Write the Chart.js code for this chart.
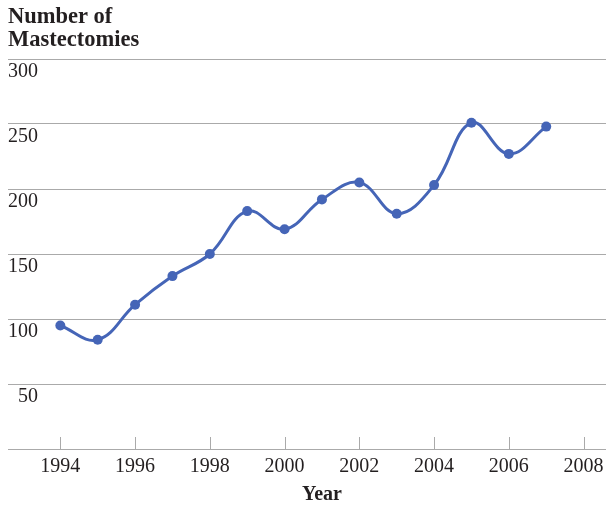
<!DOCTYPE html>
<html>
<head>
<meta charset="utf-8">
<script src="https://cdn.jsdelivr.net/npm/chart.js@4/dist/chart.umd.min.js"></script>
<style>
    html, body { margin: 0; padding: 0; background: #fff; }
    #wrap { width: 606px; height: 505px; }
</style>
</head>
<body>
<div id="wrap"><canvas id="mastChart"></canvas></div>
<script>
// Données
const years = [1994, 1995, 1996, 1997, 1998, 1999, 2000, 2001, 2002, 2003, 2004, 2005, 2006, 2007];
const mastectomies = [95, 84, 111, 133, 150, 183, 169, 192, 205, 181, 203, 251, 227, 248];
const xTickValues = [1994, 1996, 1998, 2000, 2002, 2004, 2006, 2008];
const yTickValues = [0, 50, 100, 150, 200, 250, 300];

const textColor = '#231f20';
const gridColor = '#aaaaaa';
const lineColor = '#4565b7';
const serif = "'Liberation Serif', 'DejaVu Serif', serif";

// Petits traits au-dessus de l'axe X + titre "Year"
const axisExtras = {
    id: 'axisExtras',
    afterDraw(chart) {
        const ctx = chart.ctx;
        const x = chart.scales.x;
        const bottom = chart.chartArea.bottom;
        ctx.save();
        ctx.strokeStyle = gridColor;
        ctx.lineWidth = 1;
        xTickValues.forEach(v => {
            const px = Math.round(x.getPixelForValue(v)) + 0.5;
            ctx.beginPath();
            ctx.moveTo(px, bottom);
            ctx.lineTo(px, bottom - 12);
            ctx.stroke();
        });
        ctx.fillStyle = textColor;
        ctx.font = 'bold 20px ' + serif;
        ctx.textAlign = 'center';
        ctx.textBaseline = 'middle';
        ctx.fillText('Year', x.getPixelForValue(2001), 495);
        ctx.restore();
    }
};

new Chart(document.getElementById('mastChart'), {
    type: 'line',
    data: {
        datasets: [{
            data: years.map((y, i) => ({ x: y, y: mastectomies[i] })),
            borderColor: lineColor,
            backgroundColor: lineColor,
            borderWidth: 3,
            tension: 0.4,
            pointRadius: 5,
            pointBackgroundColor: lineColor,
            pointBorderWidth: 0,
            fill: false
        }]
    },
    options: {
        responsive: true,
        maintainAspectRatio: false,
        animation: false,
        layout: {
            autoPadding: false,
            padding: { left: 8, right: 0, top: 0, bottom: 20 }
        },
        plugins: {
            legend: { display: false },
            tooltip: { enabled: false },
            title: {
                display: true,
                text: ['Number of', 'Mastectomies'],
                align: 'start',
                color: textColor,
                font: { family: serif, size: 22.5, weight: 'bold', lineHeight: 1.0 },
                padding: { top: 6, bottom: 8 }
            }
        },
        scales: {
            x: {
                type: 'linear',
                min: 1992.6,
                max: 2008.6,
                afterBuildTicks: scale => {
                    scale.ticks = xTickValues.map(v => ({ value: v }));
                },
                afterFit: scale => {
                    scale.paddingLeft = 0;
                    scale.paddingRight = 0;
                },
                grid: { display: false, drawTicks: false },
                border: { display: true, color: gridColor, width: 1 },
                ticks: {
                    color: textColor,
                    font: { family: serif, size: 20 },
                    padding: 6,
                    maxRotation: 0,
                    autoSkip: false,
                    callback: v => String(v)
                }
            },
            y: {
                min: 0,
                max: 300,
                afterBuildTicks: scale => {
                    scale.ticks = yTickValues.map(v => ({ value: v }));
                },
                grid: { color: gridColor, lineWidth: 1, drawTicks: false },
                border: { display: false },
                ticks: {
                    mirror: true,
                    crossAlign: 'far',
                    padding: 0,
                    labelOffset: 13,
                    color: textColor,
                    font: { family: serif, size: 20 },
                    callback: v => (v === 0 ? '' : String(v))
                }
            }
        }
    },
    plugins: [axisExtras]
});
</script>
</body>
</html>
